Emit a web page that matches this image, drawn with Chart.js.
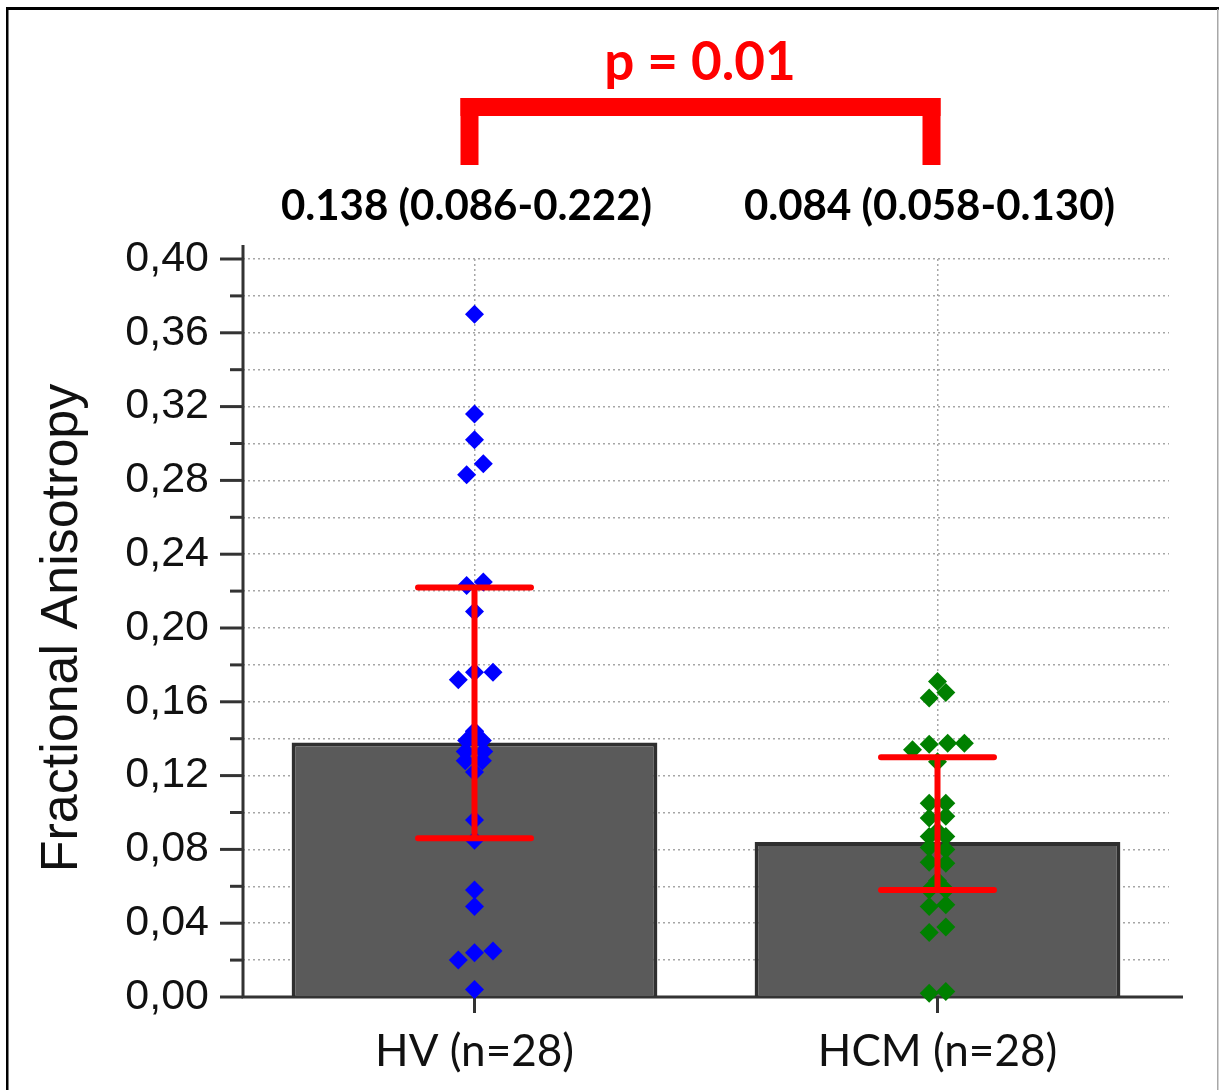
<!DOCTYPE html>
<html>
<head>
<meta charset="utf-8">
<title>Fractional Anisotropy: HV vs HCM</title>
<script src="https://cdn.jsdelivr.net/npm/chart.js@4.4.1/dist/chart.umd.min.js"></script>
<style>
  html, body { margin: 0; padding: 0; background: #ffffff; }
  canvas { display: block; }
</style>
</head>
<body>
<canvas id="fa" width="1220" height="1090"></canvas>
<script>
// Groups and summary statistics (median with interquartile range)
const groups = ['HV (n=28)', 'HCM (n=28)'];
const medians = [0.138, 0.084];
const q1 = [0.086, 0.058];
const q3 = [0.222, 0.130];
const pValueText = 'p = 0.01';

// Individual subject values and their horizontal spread (in category units)
const hvValues = [0.370, 0.316, 0.302, 0.289, 0.283, 0.223, 0.225, 0.209,
                  0.172, 0.176, 0.176, 0.144, 0.139, 0.139, 0.133, 0.133,
                  0.128, 0.128, 0.122, 0.096, 0.085, 0.058, 0.049, 0.020,
                  0.024, 0.025, 0.004, 0.144];
const hvJitter = [0, 0, 0, 0.019, -0.017, -0.017, 0.019, 0,
                  -0.035, 0, 0.040, 0, -0.017, 0.017, -0.020, 0.020,
                  -0.020, 0.017, 0, 0, 0, 0, 0, -0.035,
                  0, 0.040, 0, 0];

const hcmValues = [0.171, 0.162, 0.165, 0.134, 0.137, 0.1375, 0.1375, 0.1275,
                   0.105, 0.105, 0.097, 0.098, 0.090, 0.087, 0.087, 0.081,
                   0.080, 0.073, 0.0725, 0.063, 0.058, 0.058, 0.049, 0.050,
                   0.035, 0.038, 0.002, 0.003];
const hcmJitter = [0, -0.018, 0.018, -0.054, -0.018, 0.022, 0.058, 0,
                   -0.018, 0.018, -0.018, 0.018, 0, -0.018, 0.018, -0.018,
                   0.018, -0.018, 0.018, 0, -0.018, 0.018, -0.018, 0.018,
                   -0.018, 0.018, -0.018, 0.018];

// Value axis
const yMin = 0;
const yMax = 0.40;
const yMinorStep = 0.02;
const yTickLabels = [0, 0.04, 0.08, 0.12, 0.16, 0.20, 0.24, 0.28, 0.32, 0.36, 0.40];

const AXIS_COLOR = '#333333';
const capHalfWidth = 0.122;

function toPoints(values, jitter, groupIndex) {
  return values.map((v, i) => ({ x: groupIndex + jitter[i], y: v }));
}

function fmtStat(v) { return v.toFixed(3); }

const decorations = {
  id: 'decorations',
  beforeDatasetsDraw(chart) {
    const { ctx, chartArea, scales } = chart;
    const y = scales.y, xj = scales.xj;
    ctx.save();
    ctx.strokeStyle = AXIS_COLOR;
    ctx.lineWidth = 3;
    ctx.lineCap = 'butt';
    // axis lines
    ctx.beginPath();
    ctx.moveTo(chartArea.left, chartArea.top - 14);
    ctx.lineTo(chartArea.left, chartArea.bottom + 1.5);
    ctx.moveTo(chartArea.left - 1.5, chartArea.bottom);
    ctx.lineTo(chartArea.right + 14, chartArea.bottom);
    ctx.stroke();
    // y tick marks, long at labelled values, short in between
    const n = Math.round((yMax - yMin) / yMinorStep);
    for (let k = 0; k <= n; k++) {
      const v = yMin + k * yMinorStep;
      const py = y.getPixelForValue(v);
      const major = yTickLabels.some(t => Math.abs(t - v) < 1e-9);
      const len = major ? 23 : 13;
      ctx.beginPath();
      ctx.moveTo(chartArea.left - len, py);
      ctx.lineTo(chartArea.left, py);
      ctx.stroke();
    }
    // x tick marks at group centres
    groups.forEach((g, i) => {
      const px = xj.getPixelForValue(i);
      ctx.beginPath();
      ctx.moveTo(px, chartArea.bottom);
      ctx.lineTo(px, chartArea.bottom + 16);
      ctx.stroke();
    });
    ctx.restore();
  },
  afterDatasetsDraw(chart) {
    const { ctx, scales } = chart;
    const y = scales.y, xj = scales.xj;
    ctx.save();
    ctx.strokeStyle = '#ff0000';
    ctx.lineWidth = 6;
    ctx.lineCap = 'round';
    groups.forEach((g, i) => {
      const xc = xj.getPixelForValue(i);
      const hw = xj.getPixelForValue(i + capHalfWidth) - xc;
      const yl = y.getPixelForValue(q1[i]);
      const yh = y.getPixelForValue(q3[i]);
      ctx.beginPath();
      ctx.moveTo(xc, yl); ctx.lineTo(xc, yh);
      ctx.moveTo(xc - hw, yl); ctx.lineTo(xc + hw, yl);
      ctx.moveTo(xc - hw, yh); ctx.lineTo(xc + hw, yh);
      ctx.stroke();
    });
    ctx.restore();
  },
  afterDraw(chart) {
    const { ctx, scales } = chart;
    const xj = scales.xj;
    const x0 = xj.getPixelForValue(0);
    const x1 = xj.getPixelForValue(1);
    ctx.save();

    // significance bracket between the two groups
    ctx.fillStyle = '#ff0000';
    const legW = 18, barTop = 98, barH = 18, legBottom = 165;
    const lx = x0 - 5 - legW / 2;
    const rx = x1 - 6 + legW / 2;
    ctx.fillRect(lx, barTop, rx - lx, barH);
    ctx.fillRect(lx, barTop, legW, legBottom - barTop);
    ctx.fillRect(rx - legW, barTop, legW, legBottom - barTop);

    ctx.font = 'bold 53px Lato';
    ctx.textAlign = 'center';
    ctx.textBaseline = 'alphabetic';
    ctx.fillText(pValueText, (x0 + x1) / 2 - 6, 80);

    // median (IQR) above each group
    ctx.fillStyle = '#000000';
    ctx.font = 'bold 42px Lato';
    groups.forEach((g, i) => {
      const px = xj.getPixelForValue(i) - 8;
      ctx.fillText(fmtStat(medians[i]) + ' (' + fmtStat(q1[i]) + '-' + fmtStat(q3[i]) + ')', px, 220);
    });

    // outer frame
    ctx.fillStyle = '#000000';
    ctx.fillRect(6, 7, 1213, 3);
    ctx.fillRect(6, 7, 2.5, 1083);
    ctx.fillStyle = '#a8a8a8';
    ctx.fillRect(1217, 9, 1.5, 1081);
    ctx.restore();
  }
};

function build() {
  const ctx = document.getElementById('fa').getContext('2d');
  new Chart(ctx, {
    type: 'bar',
    data: {
      labels: groups,
      datasets: [
        {
          type: 'bar',
          data: medians,
          backgroundColor: '#5a5a5a',
          borderColor: '#2f2f2f',
          borderWidth: 4,
          borderSkipped: 'bottom',
          barPercentage: 0.79,
          categoryPercentage: 1.0,
          grouped: false,
          xAxisID: 'x',
          yAxisID: 'y',
          order: 2
        },
        {
          type: 'scatter',
          data: toPoints(hvValues, hvJitter, 0),
          pointStyle: 'rectRot',
          pointRadius: 9.5,
          pointBorderWidth: 0,
          backgroundColor: '#0000ff',
          borderColor: '#0000ff',
          showLine: false,
          clip: false,
          xAxisID: 'xj',
          yAxisID: 'y',
          order: 1
        },
        {
          type: 'scatter',
          data: toPoints(hcmValues, hcmJitter, 1),
          pointStyle: 'rectRot',
          pointRadius: 9.5,
          pointBorderWidth: 0,
          backgroundColor: '#008000',
          borderColor: '#008000',
          showLine: false,
          clip: false,
          xAxisID: 'xj',
          yAxisID: 'y',
          order: 1
        }
      ]
    },
    options: {
      responsive: false,
      animation: false,
      events: [],
      layout: { padding: { top: 259, right: 51, bottom: 0, left: 0 } },
      plugins: {
        legend: { display: false },
        tooltip: { enabled: false },
        title: { display: false }
      },
      scales: {
        x: {
          type: 'category',
          offset: true,
          border: { display: false, dash: [2, 3] },
          grid: {
            offset: false,
            drawTicks: false,
            color: '#a6a6a6',
            lineWidth: 1.5
          },
          ticks: {
            padding: 28,
            color: '#111111',
            font: { family: 'Lato', size: 44 }
          },
          afterFit(scale) { scale.height = 93; }
        },
        xj: {
          type: 'linear',
          axis: 'x',
          position: 'bottom',
          display: false,
          offset: false,
          grace: 0,
          bounds: 'ticks',
          min: -0.5,
          max: 1.5,
          grid: { offset: false }
        },
        y: {
          type: 'linear',
          min: yMin,
          max: yMax,
          border: { display: false, dash: [2, 3] },
          grid: {
            drawTicks: false,
            color: '#a6a6a6',
            lineWidth: 1.5
          },
          ticks: {
            stepSize: yMinorStep,
            padding: 34,
            color: '#111111',
            font: { family: 'Liberation Sans', size: 43 },
            autoSkip: false,
            callback(value) {
              const hit = yTickLabels.find(t => Math.abs(t - value) < 1e-9);
              return hit === undefined ? '' : hit.toFixed(2).replace('.', ',');
            }
          },
          title: {
            display: true,
            text: 'Fractional Anisotropy',
            color: '#111111',
            font: { family: 'Liberation Sans', size: 52 },
            padding: { top: 31, bottom: 0 }
          },
          afterFit(scale) { scale.width = 243; }
        }
      }
    },
    plugins: [decorations]
  });
}

Promise.all([
  document.fonts.load('bold 53px Lato'),
  document.fonts.load('44px Lato'),
  document.fonts.load('43px "Liberation Sans"')
]).then(build, build);
</script>
</body>
</html>
